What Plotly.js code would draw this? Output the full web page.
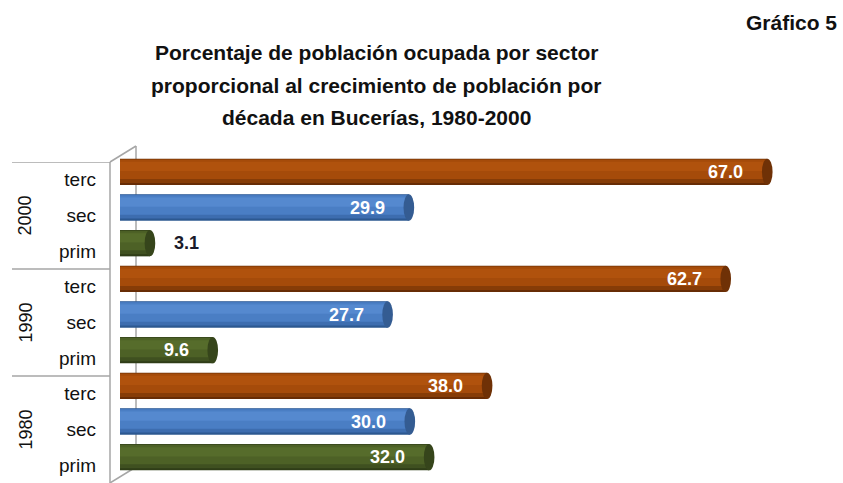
<!DOCTYPE html>
<html>
<head>
<meta charset="utf-8">
<script src="https://cdn.plot.ly/plotly-3.0.1.min.js"></script>
<style>html,body{margin:0;padding:0;background:#fff;}#chart{width:843px;height:483px;}</style>
</head>
<body>
<div id="chart"></div>
<script>
// ---- data ----
const years = ['1980', '1990', '2000'];
const sectors = ['prim', 'sec', 'terc'];
const prim = [32.0, 9.6, 3.1];
const sec  = [30.0, 27.7, 29.9];
const terc = [38.0, 62.7, 67.0];
const titleLines = [
  'Porcentaje de población ocupada por sector',
  'proporcional al crecimiento de población por',
  'década en Bucerías, 1980-2000'
];
const chartLabel = 'Gráfico 5';

// ---- styles ----
const W = 843, H = 483;
const FONT = '"Liberation Sans", Arial, sans-serif';
const pal = {
  prim: {c0: '#2f3d17', c1: '#3f5020', c2: '#4d6126', c3: '#566c2b', cap: '#36451b'},
  sec:  {c0: '#2c5890', c1: '#3d6daf', c2: '#4a7ec4', c3: '#5589cf', cap: '#345c92'},
  terc: {c0: '#672c05', c1: '#863c07', c2: '#a54b0a', c3: '#b0520d', cap: '#6f3106'}
};
const bySector = {prim: prim, sec: sec, terc: terc};
const px = x => x / W;
const py = y => 1 - y / H;

// build categories bottom -> top
const cats = [], vals = [], secOf = [];
years.forEach((yr, g) => {
  sectors.forEach(s => {
    cats.push(yr + ' ' + s);
    vals.push(bySector[s][g]);
    secOf.push(s);
  });
});

const traces = [];
// layered bars per sector to mimic the cylinder shading
const layers = [
  {key: 'c0', offset: -0.37, width: 0.74},
  {key: 'c1', offset: -0.31, width: 0.67},
  {key: 'c2', offset: -0.20, width: 0.54},
  {key: 'c3', offset: 0.02,  width: 0.26}
];
layers.forEach(L => {
  traces.push({
    type: 'bar', orientation: 'h',
    x: vals, y: cats,
    xaxis: 'x', yaxis: 'y',
    offset: L.offset, width: L.width,
    marker: {color: secOf.map(s => pal[s][L.key]), line: {width: 0}},
    hoverinfo: 'skip', showlegend: false
  });
});
// dummy trace to hold label axis
traces.push({type: 'scatter', x: [0], y: [0], xaxis: 'x', yaxis: 'y2',
  mode: 'none', hoverinfo: 'skip', showlegend: false});

const annotations = [];
// title
titleLines.forEach((t, i) => {
  annotations.push({text: '<b>' + t + '</b>', xref: 'paper', yref: 'paper',
    x: px(376), y: py(52 + i * 33), xanchor: 'center', yanchor: 'middle',
    showarrow: false, font: {family: FONT, size: 21, color: '#111'}});
});
annotations.push({text: '<b>' + chartLabel + '</b>', xref: 'paper', yref: 'paper',
  x: px(839), y: py(22), xanchor: 'right', yanchor: 'middle',
  showarrow: false, font: {family: FONT, size: 21, color: '#111'}});
// year labels
years.forEach((yr, g) => {
  annotations.push({text: yr, xref: 'paper', yref: 'y2',
    x: px(25), y: g * sectors.length + 1, xanchor: 'center', yanchor: 'middle',
    textangle: -90, showarrow: false, font: {family: FONT, size: 18, color: '#111'}});
});
// value labels
vals.forEach((v, i) => {
  const inside = v >= 5;
  annotations.push({text: '<b>' + v.toFixed(1) + '</b>', xref: 'x', yref: 'y',
    x: v, y: cats[i], xanchor: inside ? 'right' : 'left', yanchor: 'middle',
    xshift: inside ? -22 : 22, showarrow: false,
    font: {family: FONT, size: 18, color: inside ? '#ffffff' : '#1a1a2a'}});
});

const wall = '#a6a6a6';
const shapes = [
  // 3D left wall
  {type: 'line', xref: 'paper', yref: 'paper', x0: px(110), y0: py(162), x1: px(110), y1: py(483), line: {color: wall, width: 1.5}, layer: 'below'},
  {type: 'line', xref: 'paper', yref: 'paper', x0: px(136), y0: py(146), x1: px(136), y1: py(467), line: {color: wall, width: 1.5}, layer: 'below'},
  {type: 'line', xref: 'paper', yref: 'paper', x0: px(110), y0: py(162), x1: px(136), y1: py(146), line: {color: wall, width: 1.5}, layer: 'below'},
  {type: 'line', xref: 'paper', yref: 'paper', x0: px(110), y0: py(483), x1: px(136), y1: py(467), line: {color: wall, width: 1.5}, layer: 'below'}
];
// group dividers in label area
for (let g = 1; g <= years.length; g++) {
  const yv = g * sectors.length - 0.5;
  shapes.push({type: 'line', xref: 'paper', yref: 'y2', x0: px(12), x1: px(110), y0: yv, y1: yv,
    line: {color: wall, width: 1.5}, layer: 'below'});
}
// cylinder end caps
vals.forEach((v, i) => {
  shapes.push({type: 'circle', xref: 'x', yref: 'y', x0: v - 0.55, x1: v + 0.55,
    y0: i - 0.37, y1: i + 0.37, fillcolor: pal[secOf[i]].cap, line: {width: 0}, layer: 'above'});
});

const layout = {
  width: W, height: H,
  margin: {l: 0, r: 0, t: 0, b: 0},
  paper_bgcolor: '#fff', plot_bgcolor: 'rgba(0,0,0,0)',
  barmode: 'overlay', showlegend: false,
  font: {family: FONT, color: '#111'},
  xaxis: {domain: [px(120), 1], range: [0, 74.84], visible: false, fixedrange: true},
  yaxis: {type: 'category', categoryarray: cats, categoryorder: 'array',
    domain: [py(475), py(154)], range: [-0.5, cats.length - 0.5],
    showticklabels: false, showgrid: false, zeroline: false, showline: false, ticks: '', fixedrange: true},
  yaxis2: {type: 'linear', anchor: 'free', position: px(110), side: 'left',
    domain: [0, py(162)], range: [-0.5, cats.length - 0.5],
    tickmode: 'array', tickvals: cats.map((c, i) => i), ticktext: secOf,
    ticks: '', ticklabelstandoff: 14, showgrid: false, zeroline: false, showline: false,
    tickfont: {family: FONT, size: 19, color: '#111'}, fixedrange: true},
  annotations: annotations,
  shapes: shapes
};

Plotly.newPlot('chart', traces, layout, {displayModeBar: false, staticPlot: true});
</script>
</body>
</html>
